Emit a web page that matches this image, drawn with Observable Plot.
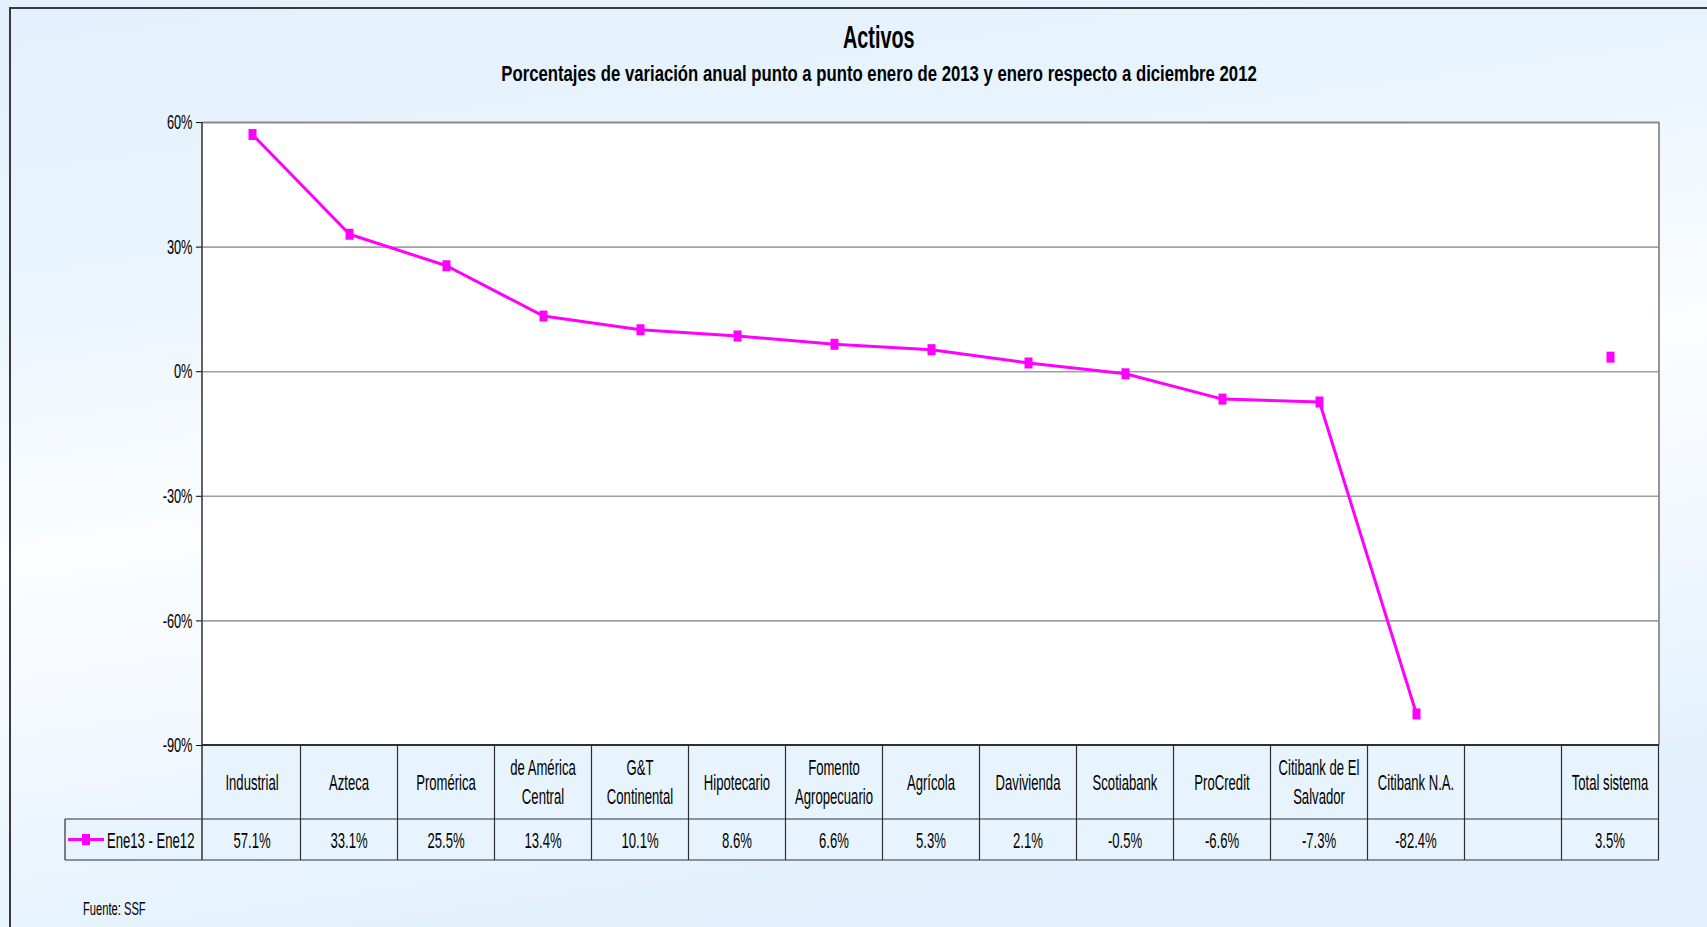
<!DOCTYPE html>
<html>
<head>
<meta charset="utf-8">
<script src="https://cdn.jsdelivr.net/npm/d3@7"></script>
<script src="https://cdn.jsdelivr.net/npm/@observablehq/plot@0.6"></script>
<style>
  html, body { margin: 0; padding: 0; background: #ffffff; }
  #wrap {
    position: relative; width: 1707px; height: 927px; overflow: hidden;
    background: linear-gradient(172deg, #e2f1fd 0%, #e8f4fd 22%, #fbfdff 48%, #f4f9fe 62%, #e3f1fd 85%, #e2f1fd 100%);
    font-family: "Liberation Sans", Arial, sans-serif;
    color: #000;
  }
  #frame {
    position: absolute; left: 9px; top: 7px; width: 1780px; height: 1000px;
    border: 2px solid #3a3a3a; box-sizing: border-box;
  }
  .hdr {
    position: absolute; left: 0; width: 1758px; text-align: center; white-space: nowrap;
  }
  .hdr span { display: inline-block; font-weight: bold; transform-origin: center; }
  #title { top: 19px; font-size: 32px; line-height: 36px; }
  #title span { transform: scaleX(0.62); }
  #subtitle { top: 61px; font-size: 22px; line-height: 26px; }
  #subtitle span { transform: scaleX(0.76); }
  #chart { position: absolute; left: 0; top: 0; }
  #source { position: absolute; left: 83px; top: 899px; font-size: 18px; line-height: 20px; transform: scaleX(0.62); transform-origin: left; white-space: nowrap; }
</style>
</head>
<body>
<div id="wrap">
  <div id="frame"></div>
  <div id="title" class="hdr"><span>Activos</span></div>
  <div id="subtitle" class="hdr"><span>Porcentajes de variación anual punto a punto enero de 2013 y enero respecto a diciembre 2012</span></div>
  <div id="chart"></div>
  <div id="source">Fuente: SSF</div>
</div>
<script>
// ---- data ----
const categories = [
  "Industrial", "Azteca", "Promérica", "de América\nCentral", "G&T\nContinental",
  "Hipotecario", "Fomento\nAgropecuario", "Agrícola", "Davivienda", "Scotiabank",
  "ProCredit", "Citibank de El\nSalvador", "Citibank N.A.", "", "Total sistema"
];
const values = [57.1, 33.1, 25.5, 13.4, 10.1, 8.6, 6.6, 5.3, 2.1, -0.5, -6.6, -7.3, -82.4, null, 3.5];
const seriesName = "Ene13 - Ene12";
const yTicks = [-90, -60, -30, 0, 30, 60];
const gridValues = [30, 0, -30, -60];

const data = categories.map((c, i) => ({cat: c, value: values[i]}));
const FONT = '"Liberation Sans", Arial, sans-serif';
const NARROW = 0.61;            // condensed look: Arial compressed horizontally
const MAGENTA = "#ff00ff";
const fmtPct = (v) => (v < 0 ? "-" : "") + Math.abs(v).toFixed(1) + "%";

// tall square marker (as in the original spreadsheet chart)
const markerSymbol = {
  draw(ctx) { ctx.moveTo(-4, -5.5); ctx.lineTo(4, -5.5); ctx.lineTo(4, 5.5); ctx.lineTo(-4, 5.5); ctx.closePath(); }
};

function narrowText(g, x, y, anchor, size) {
  return g.append("text")
    .attr("transform", `translate(${x},${y}) scale(${NARROW},1)`)
    .attr("text-anchor", anchor).attr("font-size", size).attr("fill", "#000");
}

// table drawn under the plot using the plot's own x scale
function tableMark(index, scales, channels, dimensions) {
  const x = scales.x, y = scales.y;
  const {width, marginLeft, marginRight} = dimensions;
  const left = marginLeft, right = width - marginRight;
  const step = x(categories[1]) - x(categories[0]);
  const top = y(-90);
  const row1 = top + 74, row2 = row1 + 41;
  const legendLeft = 65;
  const g = d3.create("svg:g").attr("class", "tbl");
  g.append("rect").attr("x", left).attr("y", top).attr("width", right - left).attr("height", row1 - top).attr("fill", "#e8f4fd");
  g.append("rect").attr("x", legendLeft).attr("y", row1).attr("width", right - legendLeft).attr("height", row2 - row1).attr("fill", "#e8f4fd");
  const hl = (x1, x2, yy, w) => g.append("line").attr("x1", x1).attr("x2", x2).attr("y1", yy).attr("y2", yy).attr("stroke", "#303030").attr("stroke-width", w);
  const vl = (xx, y1, y2, w, c) => g.append("line").attr("x1", xx).attr("x2", xx).attr("y1", y1).attr("y2", y2).attr("stroke", c || "#303030").attr("stroke-width", w);
  hl(legendLeft, right, row1, 1.2);
  hl(legendLeft, right, row2, 1.2);
  vl(legendLeft, row1, row2, 1.2);
  categories.forEach((c) => vl(x(c) + step / 2, top, row2, 1.2));
  vl(left, y(60), row2, 1.6, "#3c3c3c");
  vl(right, y(60), top, 1.8, "#8a8a8a");
  hl(left, right, top, 2);
  // category labels
  categories.forEach((c) => {
    const lines = c.split("\n");
    const t = narrowText(g, x(c), (top + row1) / 2, "middle", 21.5);
    lines.forEach((ln, k) => {
      t.append("tspan").attr("x", 0).attr("y", (k - (lines.length - 1) / 2) * 29).attr("dy", "0.35em").text(ln);
    });
  });
  // value labels
  data.forEach((d) => {
    if (d.value == null) return;
    narrowText(g, x(d.cat), (row1 + row2) / 2 + 1, "middle", 21.5).attr("dy", "0.35em").text(fmtPct(d.value));
  });
  // legend key
  const ly = (row1 + row2) / 2;
  g.append("line").attr("x1", 68).attr("x2", 104).attr("y1", ly).attr("y2", ly).attr("stroke", MAGENTA).attr("stroke-width", 3);
  g.append("rect").attr("x", 82).attr("y", ly - 5.5).attr("width", 8).attr("height", 11).attr("fill", MAGENTA);
  narrowText(g, 107, ly + 1, "start", 21.5).attr("dy", "0.35em").text(seriesName);
  return g.node();
}

const chart = Plot.plot({
  width: 1707,
  height: 927,
  marginLeft: 202,
  marginRight: 48,
  marginTop: 122,
  marginBottom: 182,
  style: {background: "transparent", fontFamily: FONT, fontSize: "21px", color: "#000", overflow: "visible"},
  x: {type: "point", domain: categories, padding: 0.5, axis: null},
  y: {domain: [-90, 60], ticks: yTicks, tickFormat: (d) => d + "%", tickSize: 6, tickPadding: 4, label: null},
  marks: [
    Plot.frame({fill: "white", stroke: "none"}),
    Plot.ruleY(gridValues, {stroke: "#a0a0a0", strokeWidth: 1.6}),
    Plot.ruleY([60], {stroke: "#8a8a8a", strokeWidth: 2}),
    tableMark,
    Plot.line(data, {x: "cat", y: "value", stroke: MAGENTA, strokeWidth: 3}),
    Plot.dot(data.filter((d) => d.value != null), {x: "cat", y: "value", symbol: markerSymbol, fill: MAGENTA, stroke: "none", r: 4})
  ]
});

// give the y-axis tick labels the same condensed look
d3.select(chart).selectAll("text").each(function () {
  if (this.closest(".tbl")) return;
  const el = d3.select(this);
  const tr = el.attr("transform") || "";
  const xa = el.attr("x");
  if (xa != null) el.attr("x", +xa / NARROW);
  el.attr("transform", (tr + ` scale(${NARROW},1)`).trim());
});

document.getElementById("chart").appendChild(chart);
</script>
</body>
</html>
